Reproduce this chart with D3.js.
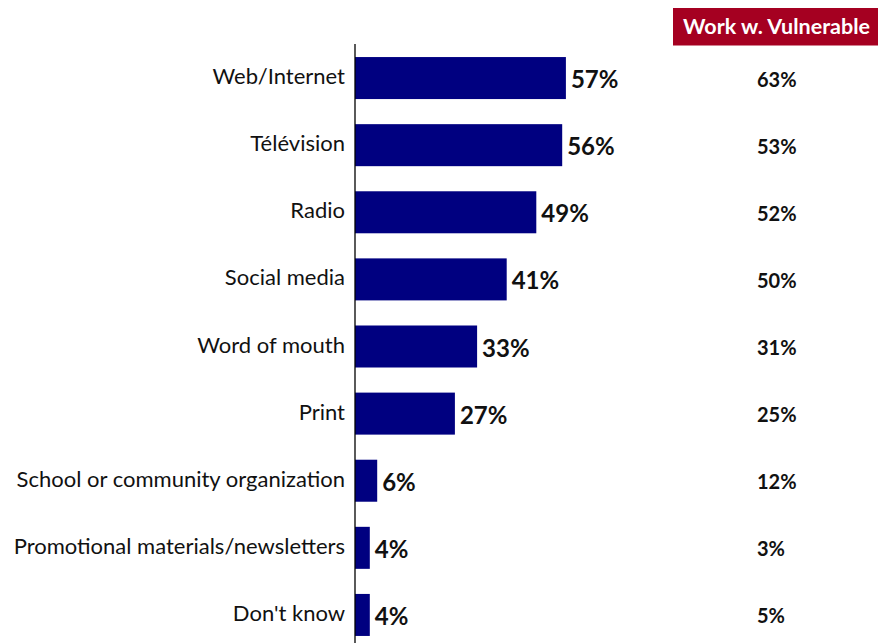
<!DOCTYPE html>
<html>
<head>
<meta charset="utf-8">
<script src="https://cdn.jsdelivr.net/npm/d3@7"></script>
<style>
  html, body { margin: 0; padding: 0; background: #fff; }
  svg { display: block; }
</style>
</head>
<body>
<svg id="chart" width="878" height="643"></svg>
<script>
// Sources of information (overall %) with the "Work w. Vulnerable" comparison column
const categories = [
  "Web/Internet",
  "Télévision",
  "Radio",
  "Social media",
  "Word of mouth",
  "Print",
  "School or community organization",
  "Promotional materials/newsletters",
  "Don't know"
];
const overallValues = [57, 56, 49, 41, 33, 27, 6, 4, 4];
const vulnerableValues = [63, 53, 52, 50, 31, 25, 12, 3, 5];
const columnHeader = "Work w. Vulnerable";

const svg = d3.select("#chart");
const font = "Lato, 'Open Sans', sans-serif";

const x = d3.scaleLinear().domain([0, 100]).range([355, 725]);
const y = d3.scaleBand()
  .domain(categories)
  .range([44.5, 648.5])
  .paddingInner(0.374)
  .paddingOuter(0.187);
const mid = d => y(d) + y.bandwidth() / 2;

// Bars
svg.append("g")
  .selectAll("rect")
  .data(categories)
  .join("rect")
  .attr("x", x(0))
  .attr("y", d => y(d))
  .attr("width", (d, i) => x(overallValues[i]) - x(0))
  .attr("height", y.bandwidth())
  .attr("fill", "#000080");

// Vertical baseline
svg.append("line")
  .attr("x1", x(0)).attr("x2", x(0))
  .attr("y1", 44).attr("y2", 643)
  .attr("stroke", "#000").attr("stroke-width", 1.3);

// Category labels
svg.append("g")
  .selectAll("text")
  .data(categories)
  .join("text")
  .attr("x", 345)
  .attr("y", d => mid(d) + 6)
  .attr("text-anchor", "end")
  .attr("font-family", font)
  .attr("font-size", 22)
  .attr("fill", "#111")
  .text(d => d);

// Value labels at bar ends
svg.append("g")
  .selectAll("text")
  .data(categories)
  .join("text")
  .attr("x", (d, i) => x(overallValues[i]) + 5)
  .attr("y", d => mid(d) + 10)
  .attr("font-family", font)
  .attr("font-weight", "bold")
  .attr("font-size", 24)
  .attr("fill", "#111")
  .text((d, i) => overallValues[i] + "%");

// Comparison column header
svg.append("rect")
  .attr("x", 673).attr("y", 8)
  .attr("width", 210).attr("height", 37.5)
  .attr("fill", "#A50021");
svg.append("text")
  .attr("x", 683).attr("y", 34.3)
  .attr("font-family", font)
  .attr("font-weight", "bold")
  .attr("font-size", 21.5)
  .attr("fill", "#fff")
  .text(columnHeader);

// Comparison column values
svg.append("g")
  .selectAll("text")
  .data(categories)
  .join("text")
  .attr("x", 757)
  .attr("y", d => mid(d) + 8.5)
  .attr("font-family", font)
  .attr("font-weight", "bold")
  .attr("font-size", 20)
  .attr("fill", "#111")
  .text((d, i) => vulnerableValues[i] + "%");
</script>
</body>
</html>
